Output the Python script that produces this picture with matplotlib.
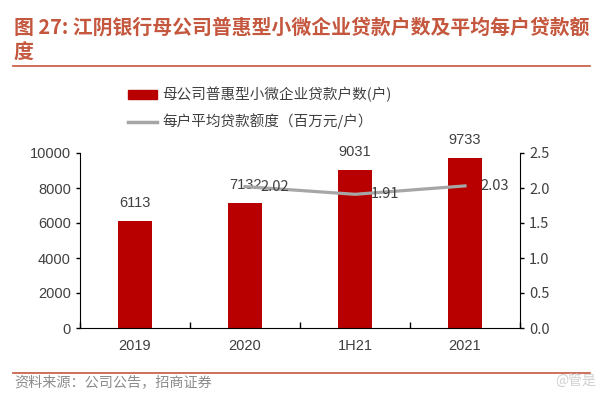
import matplotlib
matplotlib.use("Agg")
import matplotlib.pyplot as plt
from matplotlib.lines import Line2D
from matplotlib.patches import Patch

plt.rcParams['font.family'] = ['Noto Sans CJK SC', 'DejaVu Sans']

# data
categories = ['2019', '2020', '1H21', '2021']
households = [6113, 7132, 9031, 9733]
avg_loan = [None, 2.02, 1.91, 2.03]

title_line1 = '图 27: 江阴银行母公司普惠型小微企业贷款户数及平均每户贷款额'
title_line2 = '度'
bar_label = '母公司普惠型小微企业贷款户数(户)'
line_label = '每户平均贷款额度（百万元/户）'
source = '资料来源：公司公告，招商证券'

bar_color = '#B80000'
line_color = '#A6A6A6'
title_color = '#C4573E'
text_color = '#404040'

fig = plt.figure(figsize=(6.07, 3.99), dpi=100)
ax = fig.add_axes([80 / 607, 1 - 328 / 399, 440 / 607, 175 / 399])
ax2 = ax.twinx()

x = list(range(len(categories)))
ax.bar(x, households, width=0.31, color=bar_color, zorder=2)
for xi, v in zip(x, households):
    ax.annotate(str(v), (xi, v), xytext=(0, 13), textcoords='offset points',
                ha='center', va='center', fontsize=10.5, color=text_color,
                family='Liberation Sans')

lx = [xi for xi, v in zip(x, avg_loan) if v is not None]
ly = [v for v in avg_loan if v is not None]
ax2.plot(lx, ly, color=line_color, lw=2.3, zorder=3)
for xi, v in zip(lx, ly):
    ax2.annotate('%.2f' % v, (xi, v), xytext=(11, 0), textcoords='offset points',
                 ha='left', va='center', fontsize=10.5, color=text_color)

ax.set_xlim(-0.5, len(categories) - 0.5)
ax.set_ylim(0, 10000)
ax.set_yticks(range(0, 10001, 2000))
ax2.set_ylim(0, 2.5)
ax2.set_yticks([0, 0.5, 1.0, 1.5, 2.0, 2.5])
ax2.set_yticklabels(['%.1f' % t for t in [0, 0.5, 1.0, 1.5, 2.0, 2.5]])

ax.set_xticks(x)
ax.set_xticklabels(categories, family='Liberation Sans', fontsize=10.5, color=text_color)
ax.set_xticks([i + 0.5 for i in range(-1, len(categories))], minor=True)
ax.tick_params(axis='x', which='major', length=0, pad=8)
ax.tick_params(axis='x', which='minor', direction='in', length=4, width=1)
ax.tick_params(axis='y', length=3, width=1, labelsize=10.5, labelcolor=text_color)
for lab in ax.get_yticklabels():
    lab.set_family('Liberation Sans')
ax2.tick_params(axis='y', length=3, width=1, labelsize=10.5, labelcolor=text_color)

for a in (ax, ax2):
    a.spines['top'].set_visible(False)
ax.spines['right'].set_visible(False)
ax2.spines['left'].set_visible(False)
ax2.spines['bottom'].set_visible(False)

handles = [Patch(color=bar_color), Line2D([0], [0], color=line_color, lw=2.5)]
fig.legend(handles, [bar_label, line_label], loc='upper left',
           bbox_to_anchor=(115 / 607, 1 - 74 / 399), frameon=False,
           fontsize=10.5, handlelength=2.0, handleheight=0.6,
           handletextpad=0.35, labelspacing=0.75, labelcolor=text_color)

fig.text(14 / 607, 1 - 27 / 399, title_line1, fontsize=14.3, weight='bold',
         color=title_color, va='center', ha='left')
fig.text(14 / 607, 1 - 52 / 399, title_line2, fontsize=14.3, weight='bold',
         color=title_color, va='center', ha='left')
fig.add_artist(Line2D([13 / 607, 590 / 607], [1 - 66 / 399, 1 - 66 / 399],
                      color=title_color, lw=1.2))
fig.add_artist(Line2D([13 / 607, 590 / 607], [1 - 373 / 399, 1 - 373 / 399],
                      color=title_color, lw=1.2))
fig.text(14 / 607, 1 - 382 / 399, source, fontsize=10.2, color='#8C8C8C',
         va='center', ha='left')
fig.text(596 / 607, 1 - 382 / 399, '@管是', fontsize=10, color='#D0D0D0',
         va='center', ha='right')

fig.savefig('out.png', dpi=100)
